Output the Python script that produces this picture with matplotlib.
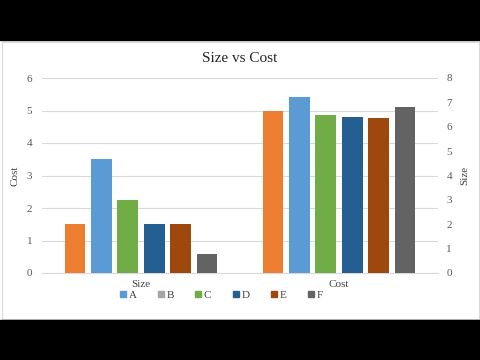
import matplotlib
matplotlib.use('Agg')
import matplotlib.pyplot as plt
from matplotlib.patches import Rectangle
from matplotlib.lines import Line2D

categories = ['Size', 'Cost']
bar_colors = ['#ED7D31', '#5B9BD5', '#70AD47', '#255E91', '#9E480E', '#636363']
cost_values = [1.5, 3.5, 2.25, 1.5, 1.5, 0.6]     # left group, Cost axis
size_values = [6.65, 7.2, 6.5, 6.4, 6.35, 6.8]    # right group, Size axis
legend_names = ['A', 'B', 'C', 'D', 'E', 'F']
legend_colors = ['#5B9BD5', '#A5A5A5', '#70AD47', '#255E91', '#9E480E', '#636363']

plt.rcParams['font.family'] = ['Liberation Serif', 'DejaVu Serif']

fig = plt.figure(figsize=(4.8, 3.6), dpi=100)
fig.patch.set_facecolor('white')

# black letterbox bars and chart border
fig.add_artist(Rectangle((0, 320/360), 1, 40/360, transform=fig.transFigure, color='black', zorder=10))
fig.add_artist(Rectangle((0, 0), 1, 40/360, transform=fig.transFigure, color='black', zorder=10))
fig.add_artist(Rectangle((1.5/480, 41.5/360), 477/480, 277/360, transform=fig.transFigure,
                         fill=False, edgecolor='#D9D9D9', lw=0.8, zorder=5))

ax = fig.add_axes([42/480, 1 - 273/360, 396/480, 195/360])
ax2 = ax.twinx()

pitch = 0.1336
width = 0.104
for i in range(6):
    off = (i - 2.5) * pitch
    ax.bar(0 + off, cost_values[i], width=width, color=bar_colors[i], zorder=3)
    ax2.bar(1 + off, size_values[i], width=width, color=bar_colors[i], zorder=3)

ax.set_xlim(-0.5, 1.5)
ax.set_ylim(0, 6)
ax2.set_ylim(0, 8)
ax.set_yticks(range(0, 7))
ax2.set_yticks(range(0, 9))
ax.set_xticks([0, 1])
ax.set_xticklabels(categories)

ax.grid(axis='y', color='#D9D9D9', lw=0.8, zorder=0)
ax.set_axisbelow(True)
for a in (ax, ax2):
    for s in a.spines.values():
        s.set_visible(False)
ax.spines['bottom'].set_visible(True)
ax.spines['bottom'].set_color('#D9D9D9')

ax.tick_params(axis='y', length=0, pad=7, labelsize=8, labelcolor='#595959')
ax2.tick_params(axis='y', length=0, pad=6, labelsize=8, labelcolor='#595959')
ax.tick_params(axis='x', length=0, pad=5, labelsize=8, labelcolor='#404040')

ax.set_ylabel('Cost', fontsize=8, color='#404040')
ax2.set_ylabel('Size', fontsize=8, color='#404040', rotation=90)
ax.yaxis.set_label_coords(-0.056, 0.5)
ax2.yaxis.set_label_coords(1.056, 0.5)

fig.text(0.5, 1 - 58/360, 'Size vs Cost', ha='center', va='center', fontsize=11, color='#262626')

handles = [Line2D([], [], marker='s', linestyle='none', markersize=4, color=c) for c in legend_colors]
fig.legend(handles, legend_names, loc='center', bbox_to_anchor=(221/480, 1 - 295/360), ncol=6,
           frameon=False, fontsize=8, handlelength=0.6, handletextpad=0.2, columnspacing=1.9,
           labelcolor='#404040', borderpad=0)

fig.savefig('out.png', dpi=100)
